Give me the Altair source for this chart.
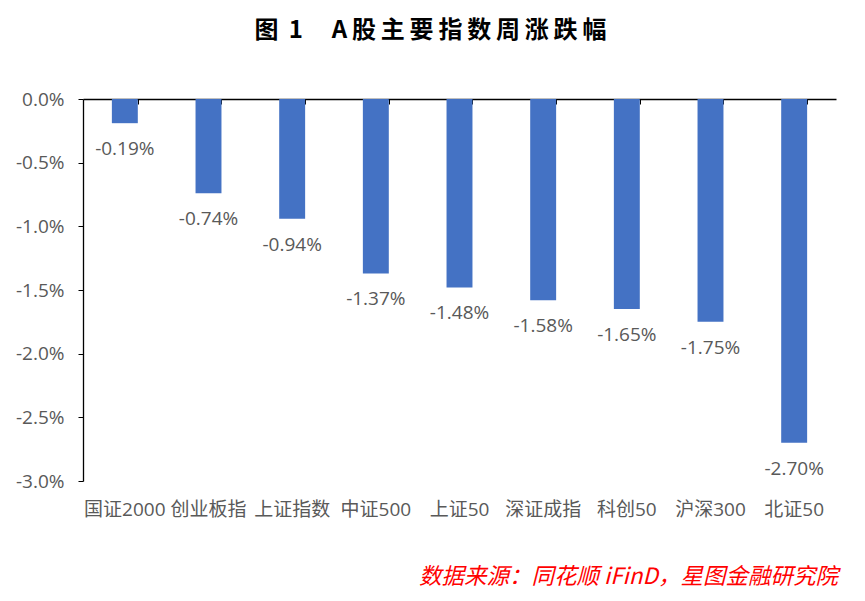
import altair as alt
import pandas as pd

categories = ["国证2000", "创业板指", "上证指数", "中证500", "上证50", "深证成指", "科创50", "沪深300", "北证50"]
changes_pct = [-0.19, -0.74, -0.94, -1.37, -1.48, -1.58, -1.65, -1.75, -2.70]
y_ticks_pct = [0.0, -0.5, -1.0, -1.5, -2.0, -2.5, -3.0]

df = pd.DataFrame({"cat": categories, "v": [c / 100 for c in changes_pct]})

W, H = 753, 382
FONT = "Open Sans, Noto Sans CJK SC"
CJK = "Noto Sans CJK SC"
GRAY = "#595959"
TS = "\u2009"
title_text = "图" + TS + " 1\u3000" + TS + "A" + TS + TS.join("股主要指数周涨跌幅")

x_top = alt.X("cat:N", sort=categories, scale=alt.Scale(paddingInner=0.69, paddingOuter=0.345),
              axis=alt.Axis(orient="bottom", offset=-H, labels=False, title=None, domain=True,
                            domainColor="#000000", domainWidth=1.3, ticks=True, tickBand="extent",
                            tickSize=5, tickColor="#000000", grid=False))
x_bot = alt.X("cat:N", sort=categories,
              axis=alt.Axis(orient="bottom", labels=True, title=None, domain=False, ticks=False,
                            labelFont=FONT, labelFontSize=19, labelColor=GRAY, labelPadding=19,
                            labelAngle=0, grid=False))
y_enc = alt.Y("v:Q", scale=alt.Scale(domain=[-0.03, 0], nice=False),
              axis=alt.Axis(values=[t / 100 for t in y_ticks_pct], format=".1%", title=None, grid=False,
                            labelExpr="replace(datum.label, '\u2212', '-')",
                            domain=True, domainColor="#000000", domainWidth=1.3, ticks=True,
                            tickSize=5, tickColor="#000000", labelFont=FONT, labelFontSize=19,
                            labelColor=GRAY, labelPadding=14))

bars = alt.Chart(df).mark_bar(color="#4472C4").encode(x=x_top, y=y_enc)
labels = alt.Chart(df).transform_calculate(
    lab="replace(format(datum.v, '.2%'), '\u2212', '-')"
).mark_text(font=FONT, fontSize=19, color=GRAY, dy=26, baseline="middle").encode(
    x=x_bot, y=alt.Y("v:Q"), text="lab:N")
source = alt.Chart(pd.DataFrame({"t": ["数据来源：同花顺 iFinD，星图金融研究院"]})).mark_text(
    font=CJK, fontSize=22.5, fontStyle="italic", color="#FF0000", align="right", baseline="middle"
).encode(x=alt.value(755), y=alt.value(478), text="t:N")

chart = alt.layer(bars, labels, source).resolve_axis(x="independent").properties(
    width=W, height=H,
    title=alt.TitleParams(title_text, font=CJK, fontSize=24, fontWeight="bold",
                          color="#000000", anchor="middle", dx=-29, offset=47),
    autosize=alt.AutoSizeParams(type="none"),
    padding={"left": 75, "top": 91, "right": 21, "bottom": 112},
).configure_view(stroke=None)

chart.save("out.html", embed_options={"renderer": "svg", "actions": False})
